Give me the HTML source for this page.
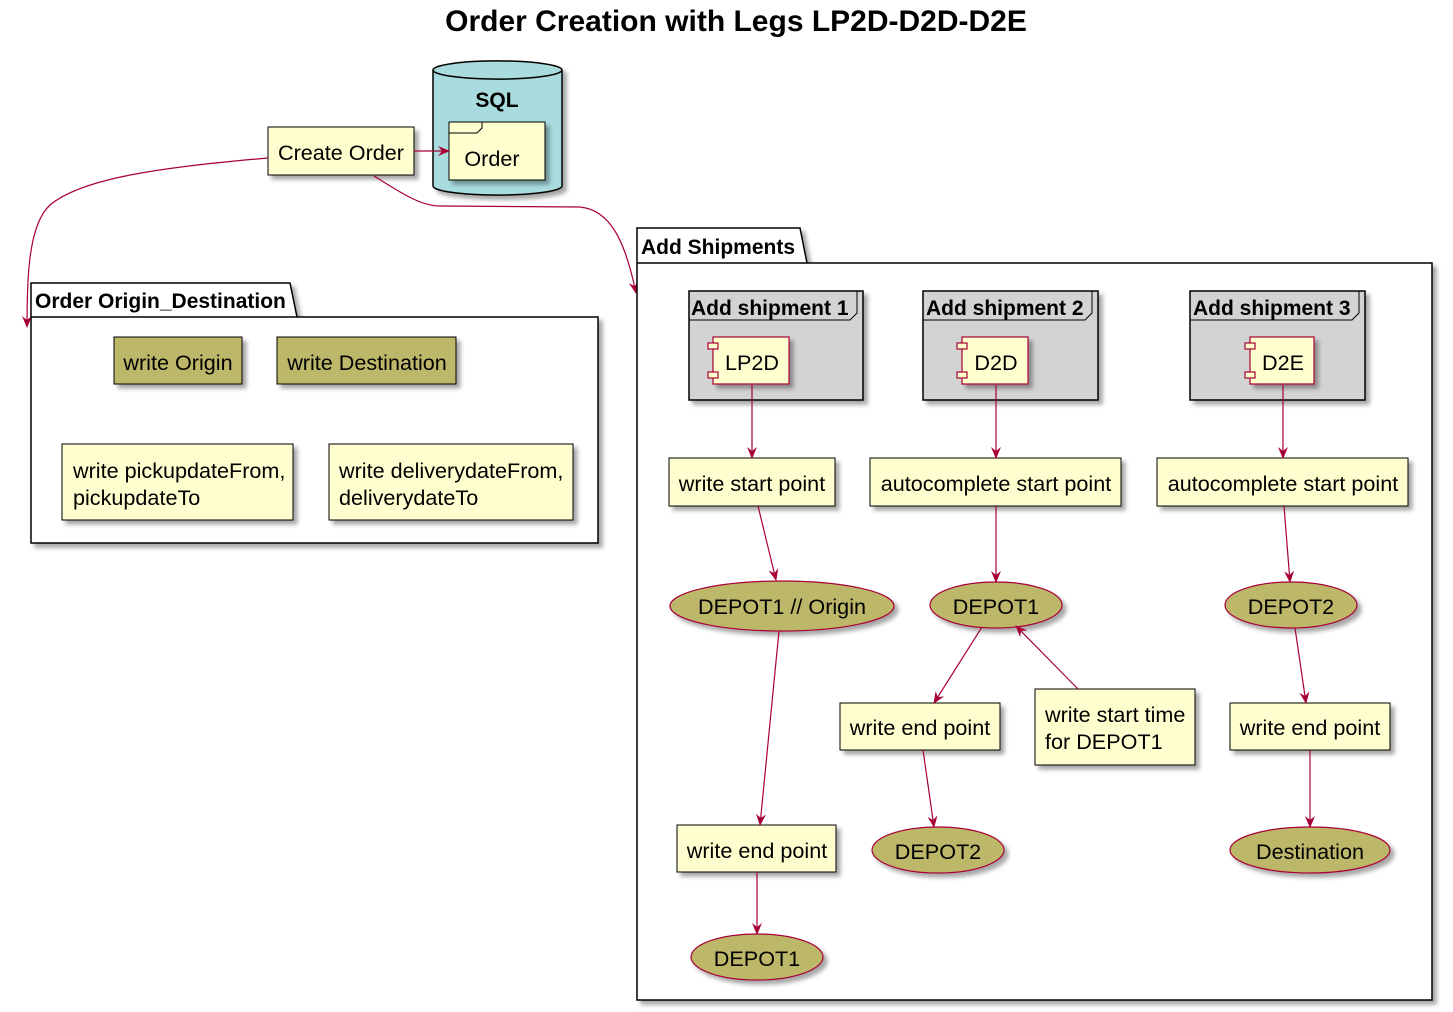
<!DOCTYPE html>
<html><head><meta charset="utf-8"><style>
html,body{margin:0;padding:0;background:#fff;}
svg{display:block;font-family:"Liberation Sans",Arial,sans-serif;}
.t{font-size:21.6px;fill:#000;}
.b{font-weight:bold;font-size:21px;}
</style></head><body>
<svg width="1453" height="1012" viewBox="0 0 1453 1012" xmlns="http://www.w3.org/2000/svg">
<defs>
<filter id="sh" x="-20%" y="-20%" width="150%" height="150%"><feDropShadow dx="4" dy="4" stdDeviation="2" flood-color="#000" flood-opacity="0.35"/></filter>
<marker id="ar" viewBox="0 0 12 10" refX="11" refY="5" markerWidth="12" markerHeight="10" markerUnits="userSpaceOnUse" orient="auto"><path d="M0,0 L12,5 L0,10 L4,5 Z" fill="#A80036"/></marker>
</defs>
<text x="736" y="31" text-anchor="middle" font-size="30" font-weight="bold">Order Creation with Legs LP2D-D2D-D2E</text>

<!-- SQL database -->
<g filter="url(#sh)">
<path d="M433,70 A64,9 0 0 1 562,70 L562,186 A64,9 0 0 1 433,186 Z" fill="#A9DCDF" stroke="#000" stroke-width="1.5"/>
</g>
<path d="M433,70 A64,9 0 0 0 562,70" fill="none" stroke="#000" stroke-width="1.5"/>
<text x="497" y="107" text-anchor="middle" class="t b">SQL</text>
<rect x="449" y="122" width="96" height="58" fill="#FEFECE" stroke="#000" filter="url(#sh)"/>
<path d="M449,133 L477,133 L482,128 L482,122" fill="none" stroke="#000"/>
<text x="492" y="166" text-anchor="middle" class="t">Order</text>

<!-- Create Order -->
<rect x="268" y="127" width="146" height="48" fill="#FEFECE" stroke="#000" filter="url(#sh)"/>
<text x="341" y="160" text-anchor="middle" class="t">Create Order</text>
<line x1="414" y1="151" x2="449" y2="151" stroke="#A80036" stroke-width="1.2" marker-end="url(#ar)"/>
<path d="M268,158 C150,168 80,180 50,205 C28,225 27,280 27,327" fill="none" stroke="#A80036" stroke-width="1.2" marker-end="url(#ar)"/>
<path d="M374,176 C400,192 420,206 440,206 L580,207 C610,210 625,240 636,293" fill="none" stroke="#A80036" stroke-width="1.2" marker-end="url(#ar)"/>

<!-- Order Origin_Destination package -->
<g filter="url(#sh)">
<path d="M31,317 L31,283 L290,283 L297,317 L598,317 L598,543 L31,543 Z" fill="#fff" stroke="#000" stroke-width="1.5"/>
</g>
<line x1="31" y1="317" x2="297" y2="317" stroke="#000" stroke-width="1.5"/>
<text x="35" y="308" class="t b">Order Origin_Destination</text>
<rect x="114" y="337" width="128" height="47" fill="#BDB76B" stroke="#000" filter="url(#sh)"/>
<text x="178" y="370" text-anchor="middle" class="t">write Origin</text>
<rect x="277" y="337" width="179" height="47" fill="#BDB76B" stroke="#000" filter="url(#sh)"/>
<text x="367" y="370" text-anchor="middle" class="t">write Destination</text>
<rect x="62" y="444" width="231" height="76" fill="#FEFECE" stroke="#000" filter="url(#sh)"/>
<text x="73" y="478" class="t">write pickupdateFrom,</text>
<text x="73" y="505" class="t">pickupdateTo</text>
<rect x="329" y="444" width="244" height="76" fill="#FEFECE" stroke="#000" filter="url(#sh)"/>
<text x="339" y="478" class="t">write deliverydateFrom,</text>
<text x="339" y="505" class="t">deliverydateTo</text>

<!-- Add Shipments package -->
<g filter="url(#sh)">
<path d="M637,263 L637,228 L800,228 L807,263 L1432,263 L1432,1000 L637,1000 Z" fill="#fff" stroke="#000" stroke-width="1.5"/>
</g>
<line x1="637" y1="263" x2="807" y2="263" stroke="#000" stroke-width="1.5"/>
<text x="641" y="254" class="t b">Add Shipments</text>

<!-- frames -->
<g>
<rect x="689" y="291" width="174" height="109" fill="#D3D3D3" stroke="#000" stroke-width="1.5" filter="url(#sh)"/>
<path d="M689,320 L850,320 L857,313 L857,291" fill="none" stroke="#000"/>
<text x="691" y="315" class="t b">Add shipment 1</text>
<rect x="923" y="291" width="175" height="109" fill="#D3D3D3" stroke="#000" stroke-width="1.5" filter="url(#sh)"/>
<path d="M923,320 L1085,320 L1092,313 L1092,291" fill="none" stroke="#000"/>
<text x="926" y="315" class="t b">Add shipment 2</text>
<rect x="1190" y="291" width="175" height="109" fill="#D3D3D3" stroke="#000" stroke-width="1.5" filter="url(#sh)"/>
<path d="M1190,320 L1352,320 L1359,313 L1359,291" fill="none" stroke="#000"/>
<text x="1193" y="315" class="t b">Add shipment 3</text>
</g>

<!-- components -->
<g stroke="#A80036" stroke-width="1.2">
<rect x="713" y="337" width="76" height="47" fill="#FEFECE" filter="url(#sh)"/>
<rect x="708" y="343" width="10" height="6" fill="#FEFECE"/><rect x="708" y="372" width="10" height="6" fill="#FEFECE"/>
<rect x="962" y="337" width="66" height="47" fill="#FEFECE" filter="url(#sh)"/>
<rect x="957" y="343" width="10" height="6" fill="#FEFECE"/><rect x="957" y="372" width="10" height="6" fill="#FEFECE"/>
<rect x="1250" y="337" width="64" height="47" fill="#FEFECE" filter="url(#sh)"/>
<rect x="1245" y="343" width="10" height="6" fill="#FEFECE"/><rect x="1245" y="372" width="10" height="6" fill="#FEFECE"/>
</g>
<text x="752" y="370" text-anchor="middle" class="t">LP2D</text>
<text x="996" y="370" text-anchor="middle" class="t">D2D</text>
<text x="1283" y="370" text-anchor="middle" class="t">D2E</text>

<!-- rectangles -->
<g fill="#FEFECE" stroke="#000" filter="url(#sh)">
<rect x="669" y="458" width="166" height="48"/>
<rect x="870" y="458" width="251" height="48"/>
<rect x="1157" y="458" width="251" height="48"/>
<rect x="840" y="703" width="160" height="47"/>
<rect x="1035" y="689" width="160" height="76"/>
<rect x="1230" y="703" width="160" height="47"/>
<rect x="677" y="825" width="159" height="47"/>
</g>
<text x="752" y="491" text-anchor="middle" class="t">write start point</text>
<text x="996" y="491" text-anchor="middle" class="t">autocomplete start point</text>
<text x="1283" y="491" text-anchor="middle" class="t">autocomplete start point</text>
<text x="920" y="735" text-anchor="middle" class="t">write end point</text>
<text x="1045" y="722" class="t">write start time</text>
<text x="1045" y="749" class="t">for DEPOT1</text>
<text x="1310" y="735" text-anchor="middle" class="t">write end point</text>
<text x="757" y="858" text-anchor="middle" class="t">write end point</text>

<!-- ellipses -->
<g fill="#BDB76B" stroke="#A80036" stroke-width="1.2" filter="url(#sh)">
<ellipse cx="782" cy="606" rx="112" ry="25"/>
<ellipse cx="996" cy="605" rx="66" ry="23"/>
<ellipse cx="1291" cy="605" rx="66" ry="23"/>
<ellipse cx="938" cy="850" rx="66" ry="23"/>
<ellipse cx="1310" cy="850" rx="80" ry="23"/>
<ellipse cx="757" cy="957" rx="66" ry="23"/>
</g>
<text x="782" y="614" text-anchor="middle" class="t">DEPOT1 // Origin</text>
<text x="996" y="614" text-anchor="middle" class="t">DEPOT1</text>
<text x="1291" y="614" text-anchor="middle" class="t">DEPOT2</text>
<text x="938" y="859" text-anchor="middle" class="t">DEPOT2</text>
<text x="1310" y="859" text-anchor="middle" class="t">Destination</text>
<text x="757" y="966" text-anchor="middle" class="t">DEPOT1</text>

<!-- connectors -->
<g stroke="#A80036" stroke-width="1.2" fill="none" marker-end="url(#ar)">
<line x1="752" y1="385" x2="752" y2="458"/>
<line x1="996" y1="385" x2="996" y2="458"/>
<line x1="1283" y1="385" x2="1283" y2="458"/>
<line x1="758" y1="506" x2="776" y2="580"/>
<line x1="996" y1="506" x2="996" y2="582"/>
<line x1="1284" y1="506" x2="1290" y2="582"/>
<line x1="779" y1="631" x2="760" y2="825"/>
<line x1="982" y1="627" x2="934" y2="703"/>
<line x1="1078" y1="689" x2="1016" y2="626"/>
<line x1="1295" y1="628" x2="1306" y2="703"/>
<line x1="923" y1="750" x2="934" y2="827"/>
<line x1="1310" y1="750" x2="1310" y2="827"/>
<line x1="757" y1="872" x2="757" y2="934"/>
</g>
</svg>
</body></html>
